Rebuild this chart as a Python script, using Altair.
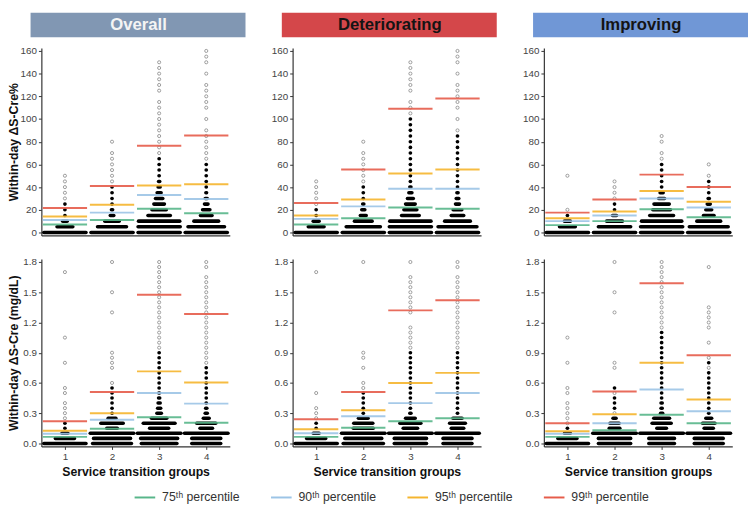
import altair as alt
import pandas as pd

GROUPS = [1, 2, 3, 4]
DIRECTIONS = ["Overall", "Deteriorating", "Improving"]
HEADER_FILLS = ["#8197b3", "#d4474a", "#7097d6"]
HEADER_INKS = ["#f4f4f4", "#141414", "#141414"]
PCT_LABELS = ["75ᵗʰ percentile", "90ᵗʰ percentile", "95ᵗʰ percentile", "99ᵗʰ percentile"]
PCT_COLORS = ["#58b68a", "#9cc4e6", "#f5b52e", "#e65c4a"]

PCT_YTICKS = [0, 20, 40, 60, 80, 100, 120, 140, 160]
MG_YTICKS = [0.0, 0.3, 0.6, 0.9, 1.2, 1.5, 1.8]

# ---- Within-day dS-Cre% : group -> (row values, row extent in group widths, single-point values)
OVR_PCT_ROWS = {
    1: ([0, 5, 10, 15, 20, 25], [0.97, 0.41, 0.17, 0.05, 0.02, 0.01], [30, 35, 40, 45, 50]),
    2: ([0, 5, 10, 15, 20, 25, 30, 35, 40], [0.97, 0.69, 0.38, 0.15, 0.10, 0.06, 0.04, 0.02, 0.01],
        [45, 50, 55, 60, 65, 70, 80]),
    3: ([0, 5, 10, 15, 20, 25, 30, 35, 40, 45, 50, 55, 60, 65],
        [0.97, 0.97, 0.95, 0.55, 0.38, 0.30, 0.23, 0.16, 0.12, 0.10, 0.08, 0.05, 0.02, 0.01],
        [70, 75, 80, 85, 90, 95, 100, 105, 110, 115, 125, 130, 135, 140, 145, 150]),
    4: ([0, 5, 10, 15, 20, 25, 30, 35, 40, 45, 50, 55, 60],
        [0.97, 0.85, 0.60, 0.32, 0.23, 0.15, 0.12, 0.09, 0.06, 0.05, 0.04, 0.02, 0.01],
        [65, 70, 75, 80, 85, 90, 100, 110, 115, 120, 125, 130, 140, 150, 155, 160]),
}
DET_PCT_ROWS = {
    1: ([0, 5, 10, 15, 20], [0.97, 0.41, 0.20, 0.05, 0.02], [25, 30, 35, 40, 45]),
    2: ([0, 5, 10, 15, 20, 25, 30, 35, 40], [0.97, 0.80, 0.45, 0.20, 0.14, 0.10, 0.06, 0.03, 0.02],
        [45, 50, 55, 60, 65, 70, 80]),
    3: ([0, 5, 10, 15, 20, 25, 30, 35, 40, 45, 50, 55, 60, 65, 70, 75, 80, 85, 90, 95, 100],
        [0.97, 0.97, 0.95, 0.45, 0.35, 0.28, 0.20, 0.14, 0.10, 0.08, 0.07, 0.05, 0.04, 0.03, 0.02,
         0.02, 0.015, 0.01, 0.01, 0.01, 0.01],
        [105, 110, 115, 125, 130, 135, 140, 145, 150]),
    4: ([0, 5, 10, 15, 20, 25, 30, 35, 40, 45, 50, 55, 60, 65, 70, 75, 80, 85],
        [0.97, 0.90, 0.62, 0.34, 0.26, 0.16, 0.13, 0.10, 0.08, 0.06, 0.05, 0.04, 0.03, 0.02, 0.02,
         0.01, 0.01, 0.01],
        [90, 100, 110, 115, 120, 125, 130, 140, 150, 155, 160]),
}
IMP_PCT_ROWS = {
    1: ([0, 5, 10, 15], [0.97, 0.41, 0.20, 0.04], [20, 50]),
    2: ([0, 5, 10, 15, 20, 25], [0.97, 0.76, 0.41, 0.16, 0.05, 0.02], [30, 35, 40, 45]),
    3: ([0, 5, 10, 15, 20, 25, 30, 35, 40, 45, 50, 55, 60],
        [0.97, 0.97, 0.93, 0.58, 0.45, 0.40, 0.20, 0.14, 0.08, 0.05, 0.02, 0.01, 0.01],
        [65, 70, 80, 85]),
    4: ([0, 5, 10, 15, 20, 25, 30, 35, 40, 45],
        [0.97, 0.90, 0.58, 0.30, 0.20, 0.14, 0.10, 0.04, 0.02, 0.01], [50, 60]),
}

# ---- Within-day dS-Cre in hundredths of mg/dL
OVR_MG_ROWS = {
    1: ([0, 5, 10, 15, 20], [0.97, 0.48, 0.20, 0.04, 0.02], [25, 30, 35, 40, 50, 55, 80, 105, 170]),
    2: ([0, 5, 10, 15, 20, 25, 30, 35, 40, 45, 50, 55],
        [0.90, 0.86, 1.0, 0.30, 0.55, 0.24, 0.07, 0.02, 0.05, 0.02, 0.02, 0.01],
        [60, 75, 80, 85, 90, 130, 150, 180]),
    3: ([0, 5, 10, 15, 20, 25, 30, 35, 40, 45, 50, 55, 60, 65, 70, 75, 80, 85, 90],
        [0.83, 0.86, 1.0, 0.48, 0.75, 0.40, 0.17, 0.14, 0.12, 0.10, 0.09, 0.07, 0.06, 0.05, 0.04,
         0.03, 0.02, 0.01, 0.01],
        [95, 100, 105, 110, 115, 120, 125, 130, 135, 140, 145, 150, 155, 160, 165, 170, 175, 180]),
    4: ([0, 5, 10, 15, 20, 25, 30, 35, 40, 45, 50, 55, 60, 65, 70, 75],
        [0.69, 0.69, 1.0, 0.34, 0.48, 0.20, 0.12, 0.10, 0.08, 0.07, 0.06, 0.05, 0.04, 0.03, 0.01, 0.01],
        [80, 85, 90, 95, 100, 105, 110, 115, 120, 125, 130, 135, 140, 145, 150, 155, 160, 165, 175, 180]),
}
DET_MG_ROWS = {
    1: ([0, 5, 10, 15, 20], [0.97, 0.48, 0.20, 0.04, 0.02], [25, 30, 35, 50, 170]),
    2: ([0, 5, 10, 15, 20, 25, 30, 35, 40, 45, 50],
        [0.93, 0.86, 1.0, 0.50, 0.48, 0.28, 0.07, 0.05, 0.04, 0.02, 0.02],
        [55, 60, 75, 85, 90, 180]),
    3: ([0, 5, 10, 15, 20, 25, 30, 35, 40, 45, 50, 55, 60, 65, 70, 75, 80, 85, 90],
        [0.76, 0.76, 1.0, 0.38, 0.52, 0.28, 0.10, 0.08, 0.06, 0.05, 0.05, 0.04, 0.03, 0.03, 0.01,
         0.01, 0.01, 0.01, 0.01],
        [95, 100, 105, 110, 115, 130, 135, 140, 145, 150, 155, 160, 165, 180]),
    4: ([0, 5, 10, 15, 20, 25, 30, 35, 40, 45, 50, 55, 60, 65, 70, 75, 80, 85, 90],
        [0.69, 0.69, 1.0, 0.34, 0.41, 0.27, 0.08, 0.07, 0.06, 0.05, 0.05, 0.04, 0.03, 0.03, 0.01,
         0.01, 0.01, 0.01, 0.01],
        [95, 100, 105, 110, 115, 120, 125, 130, 135, 140, 145, 150, 155, 160, 165, 175, 180]),
}
IMP_MG_ROWS = {
    1: ([0, 5, 10, 15], [0.97, 0.48, 0.20, 0.04], [20, 25, 30, 35, 40, 50, 55, 80, 105]),
    2: ([0, 5, 10, 15, 20, 25, 35, 40, 45, 55],
        [0.76, 0.76, 1.0, 0.30, 0.27, 0.14, 0.02, 0.02, 0.02, 0.02],
        [30, 50, 75, 80, 130, 150, 180]),
    3: ([0, 5, 10, 15, 20, 25, 30, 35, 40, 45, 50, 55, 60, 65, 70, 75, 80, 85, 90, 95, 100, 105, 110],
        [0.62, 0.62, 1.0, 0.28, 0.48, 0.41, 0.12, 0.10, 0.10, 0.07, 0.07, 0.05, 0.04, 0.04, 0.03,
         0.03, 0.02, 0.02, 0.01, 0.01, 0.01, 0.01, 0.01],
        [115, 120, 125, 130, 135, 140, 145, 150, 155, 160, 165, 170, 175, 180]),
    4: ([0, 5, 10, 15, 20, 25, 30, 35, 40, 45, 50, 55, 60, 65, 70, 80],
        [0.69, 0.69, 1.0, 0.27, 0.34, 0.20, 0.08, 0.05, 0.05, 0.03, 0.03, 0.02, 0.01, 0.02, 0.01, 0.01],
        [75, 85, 100, 115, 120, 125, 130, 135, 175]),
}

# ---- percentile lines (75th, 90th, 95th, 99th) per group
OVR_PCT_LINES = [[7, 11, 21, 17], [11, 17.5, 33, 29.5], [14, 24.5, 41.5, 42.5], [21.5, 41, 76.5, 85.5]]
DET_PCT_LINES = [[7, 12.5, 22, 21], [12, 23, 38.5, 38.5], [15, 29, 52, 55.5], [26, 55.5, 109, 118]]
IMP_PCT_LINES = [[6.5, 10, 20.5, 13.5], [10, 15, 30, 22], [12.5, 18.5, 36.5, 27], [17.5, 29, 51, 40]]
OVR_MG_LINES = [[0.065, 0.145, 0.26, 0.205], [0.095, 0.235, 0.5, 0.395], [0.125, 0.3, 0.715, 0.605], [0.22, 0.51, 1.475, 1.285]]
DET_MG_LINES = [[0.065, 0.155, 0.22, 0.25], [0.1, 0.27, 0.4, 0.5], [0.14, 0.33, 0.6, 0.7], [0.24, 0.51, 1.32, 1.42]]
IMP_MG_LINES = [[0.065, 0.13, 0.285, 0.2], [0.095, 0.2, 0.535, 0.32], [0.12, 0.29, 0.8, 0.435], [0.2, 0.515, 1.59, 0.875]]

W, H = 192, 191
DOT = 0.075        # dot diameter in group widths (drawn by the round caps)
HALF_LINE = 0.47
FONT = "Liberation Sans"
COLOR_SCALE = alt.Scale(domain=PCT_LABELS, range=PCT_COLORS)


def frames(rows, lines, unit):
    bars, dots, plines = [], [], []
    for g in GROUPS:
        vals, widths, singles = rows[g]
        for v, w in zip(vals, widths):
            span = max(w - DOT, 0.004)
            bars.append({"value": v * unit, "x1": g - span / 2, "x2": g + span / 2})
        for v in singles:
            dots.append({"value": v * unit, "group": g})
    for lab, arr in zip(PCT_LABELS, lines):
        for g, v in zip(GROUPS, arr):
            plines.append({"value": v, "x1": g - HALF_LINE, "x2": g + HALF_LINE, "pct": lab})
    return pd.DataFrame(bars), pd.DataFrame(dots), pd.DataFrame(plines)


def panel(col, top, rows, lines, unit, ydom, yticks, yfmt, ytitle):
    bars, dots, plines = frames(rows, lines, unit)
    xs = alt.Scale(domain=[0.5, 4.5], nice=False, zero=False)
    ys = alt.Scale(domain=ydom, nice=False, zero=False)
    if top:
        xaxis = alt.Axis(values=GROUPS, grid=False, labels=False, ticks=False, title=None)
    else:
        xaxis = alt.Axis(values=GROUPS, format="d", grid=False, title="Service transition groups",
                         titlePadding=5)
    yaxis = alt.Axis(values=yticks, format=yfmt, grid=False, minExtent=18, maxExtent=18,
                     title=ytitle if col == 0 else None, titlePadding=3)
    Y = alt.Y("value:Q", scale=ys, axis=yaxis)
    bar_layer = alt.Chart(bars).mark_rule(color="black", strokeWidth=3.6, strokeCap="round").encode(
        x=alt.X("x1:Q", scale=xs, axis=xaxis), x2="x2:Q", y=Y)
    dot_layer = alt.Chart(dots).mark_point(shape="circle", filled=False, size=10, color="#858585",
                                           strokeWidth=0.8, opacity=1).encode(
        x=alt.X("group:Q", scale=xs, axis=xaxis), y=Y)
    line_layer = alt.Chart(plines).mark_rule(strokeWidth=2, opacity=0.9).encode(
        x=alt.X("x1:Q", scale=xs, axis=xaxis), x2="x2:Q", y=Y,
        color=alt.Color("pct:N", scale=COLOR_SCALE, legend=None))
    layers = [bar_layer, dot_layer, line_layer]
    if top:
        hdr = alt.Chart(alt.Data(values=[{"t": DIRECTIONS[col]}]))
        layers.append(hdr.mark_rect(color=HEADER_FILLS[col]).encode(
            x=alt.value(-11), x2=alt.value(W + 16), y=alt.value(-36), y2=alt.value(-11)))
        layers.append(hdr.mark_text(font=FONT, fontSize=17, fontWeight="bold", color=HEADER_INKS[col],
                                    align="center", baseline="middle").encode(
            x=alt.value(W / 2 + 3), y=alt.value(-23), text="t:N"))
    return alt.layer(*layers).properties(width=W, height=H)


PCT_SETS = [(OVR_PCT_ROWS, OVR_PCT_LINES), (DET_PCT_ROWS, DET_PCT_LINES), (IMP_PCT_ROWS, IMP_PCT_LINES)]
MG_SETS = [(OVR_MG_ROWS, OVR_MG_LINES), (DET_MG_ROWS, DET_MG_LINES), (IMP_MG_ROWS, IMP_MG_LINES)]

columns = []
for c in range(3):
    t = panel(c, True, PCT_SETS[c][0], PCT_SETS[c][1], 1, [-2.6, 162.6], PCT_YTICKS, "d",
              "Within-day ΔS-Cre%")
    b = panel(c, False, MG_SETS[c][0], MG_SETS[c][1], 0.01, [-0.03, 1.83], MG_YTICKS, ".1f",
              "Within-day ΔS-Cre (mg/dL)")
    columns.append(alt.vconcat(t, b, spacing=20).resolve_scale(x="independent", y="independent"))

grid = alt.hconcat(*columns, spacing=26).resolve_scale(x="independent", y="independent")

# ---- legend row (item index -> symbol + label)
LW = 700
STEP = 139.0
leg = pd.DataFrame({"i": [0, 1, 2, 3], "pct": PCT_LABELS})
leg["x2"] = leg["i"] + 21 / STEP
leg["tx"] = leg["i"] + 28 / STEP
lx = alt.Scale(domain=[-95 / STEP, -95 / STEP + LW / STEP], nice=False, zero=False)
leg_base = alt.Chart(leg)
leg_sym = leg_base.mark_rule(strokeWidth=2).encode(
    x=alt.X("i:Q", scale=lx, axis=None), x2="x2:Q", y=alt.value(7),
    color=alt.Color("pct:N", scale=COLOR_SCALE, legend=None))
leg_txt = leg_base.mark_text(align="left", baseline="middle", font=FONT, fontSize=12.5,
                             color="#333333").encode(
    x=alt.X("tx:Q", scale=lx, axis=None), y=alt.value(7), text="pct:N")
legend_row = alt.layer(leg_sym, leg_txt).properties(width=LW, height=14)

chart = alt.vconcat(grid, legend_row, spacing=12).resolve_scale(x="independent").properties(
    padding={"left": 0, "top": 0, "right": 0, "bottom": 0}
).configure_view(strokeWidth=0).configure_axis(
    domainColor="#333333", domainWidth=1.2, tickColor="#333333", tickSize=3,
    labelColor="#444444", labelFontSize=10, labelFont=FONT,
    titleFont=FONT, titleFontSize=12.5, titleFontWeight="bold", titleColor="#111111",
)

chart.save("out.html", embed_options={"renderer": "svg", "actions": False})
